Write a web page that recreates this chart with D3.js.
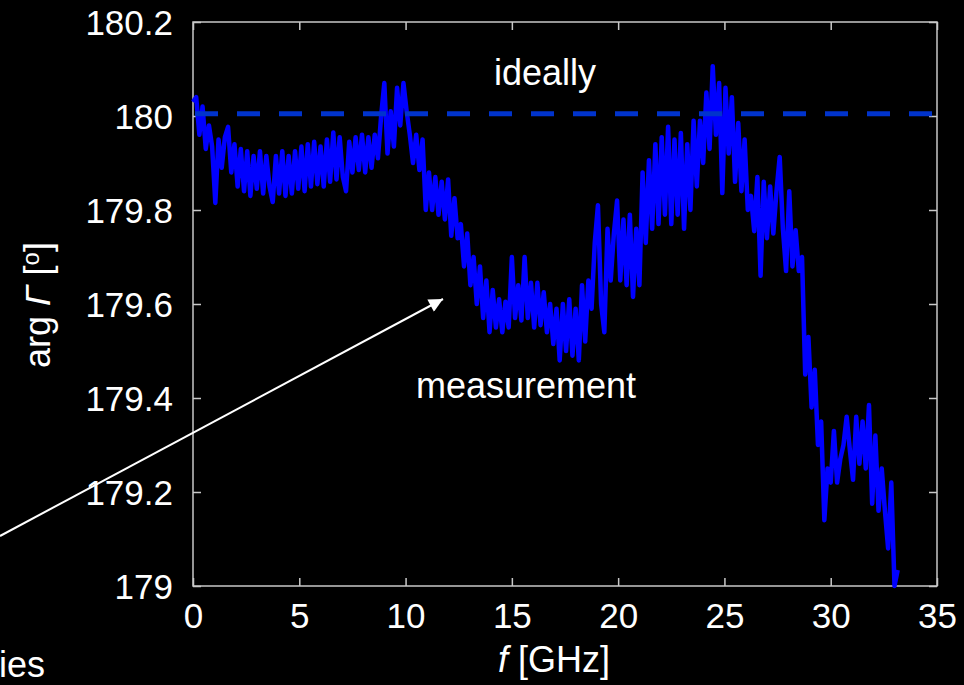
<!DOCTYPE html>
<html>
<head>
<meta charset="utf-8">
<script src="https://cdn.jsdelivr.net/npm/d3@7"></script>
<style>
  html, body { margin: 0; padding: 0; background: #000; }
  svg { display: block; }
  text { font-family: 'Liberation Sans', Arial, sans-serif; fill: #fff; }
</style>
</head>
<body>
<div id="chart"></div>
<script>
// Reflection phase chart

// Frequency sweep of the measurement (GHz)
const sweepStart = 0
const sweepStep = 0.15

// Measured phase values (degrees), one per sweep point
const phase = [
  180.030, 180.040, 179.960, 180.020, 179.930, 179.980, 179.935, 179.815, 179.950, 179.890,
  179.955, 179.977, 179.880, 179.940, 179.850, 179.930, 179.840, 179.925, 179.830, 179.915,
  179.845, 179.925, 179.835, 179.915, 179.850, 179.817, 179.915, 179.835, 179.925, 179.830,
  179.915, 179.835, 179.925, 179.845, 179.935, 179.840, 179.940, 179.850, 179.945, 179.855,
  179.935, 179.850, 179.950, 179.860, 179.965, 179.865, 179.955, 179.870, 179.840, 179.945,
  179.880, 179.955, 179.885, 179.960, 179.880, 179.955, 179.890, 179.960, 179.910, 180.000,
  180.070, 179.920, 180.010, 179.935, 180.060, 179.980, 180.070, 180.010, 179.960, 179.900,
  179.960, 179.885, 179.950, 179.800, 179.880, 179.800, 179.870, 179.790, 179.860, 179.780,
  179.865, 179.745, 179.825, 179.740, 179.770, 179.680, 179.750, 179.640, 179.700, 179.600,
  179.680, 179.570, 179.650, 179.540, 179.630, 179.550, 179.610, 179.540, 179.605, 179.550,
  179.700, 179.570, 179.640, 179.565, 179.700, 179.570, 179.645, 179.550, 179.645, 179.555,
  179.625, 179.540, 179.600, 179.515, 179.590, 179.480, 179.600, 179.500, 179.610, 179.490,
  179.590, 179.480, 179.640, 179.520, 179.650, 179.590, 179.730, 179.810, 179.600, 179.540,
  179.760, 179.650, 179.750, 179.820, 179.650, 179.780, 179.640, 179.790, 179.615, 179.760,
  179.640, 179.880, 179.730, 179.906, 179.760, 179.940, 179.770, 179.955, 179.790, 179.977,
  179.770, 179.950, 179.790, 179.964, 179.760, 179.940, 179.800, 179.990, 179.850, 179.990,
  179.900, 180.050, 179.930, 180.106, 179.960, 180.070, 179.836, 180.060, 179.920, 180.040,
  179.860, 179.985, 179.840, 179.950, 179.800, 179.830, 179.755, 179.870, 179.660, 179.860,
  179.740, 179.850, 179.750, 179.840, 179.913, 179.760, 179.670, 179.840, 179.680, 179.757,
  179.670, 179.700, 179.450, 179.530, 179.380, 179.460, 179.300, 179.350, 179.140, 179.250,
  179.220, 179.330, 179.220, 179.270, 179.300, 179.360, 179.290, 179.226, 179.360, 179.260,
  179.350, 179.250, 179.385, 179.175, 179.320, 179.160, 179.250, 179.160, 179.080, 179.220,
  179.000, 179.034
]

// Ideal reference line
const idealValue = 180.005
const idealRange = [0, 35]

// Tick labels
const xTicks = [0, 5, 10, 15, 20, 25, 30, 35]
const yTicks = [179, 179.2, 179.4, 179.6, 179.8, 180, 180.2]

// Size of the page and the plot box
var width = 964
var height = 685
var box = { left: 193, right: 937, top: 22, bottom: 586 }
var tickLen = 8
var frameColor = '#c8c8c8'

const xScale = d3.scaleLinear()
  .domain([0, 35])
  .range([box.left, box.right])

const yScale = d3.scaleLinear()
  .domain([179, 180.2])
  .range([box.bottom, box.top])

const svg = d3.select('#chart')
  .append('svg')
  .attr('width', width)
  .attr('height', height)

svg.append('rect')
  .attr('width', width)
  .attr('height', height)
  .attr('fill', '#000')

// axes, ticks pointing into the box
const bottomAxis = d3.axisBottom(xScale).tickValues(xTicks)
  .tickSizeInner(-tickLen).tickSizeOuter(0).tickFormat(d3.format('d'))
const topAxis = d3.axisTop(xScale).tickValues(xTicks)
  .tickSizeInner(-tickLen).tickSizeOuter(0).tickFormat('')
const leftAxis = d3.axisLeft(yScale).tickValues(yTicks)
  .tickSizeInner(-tickLen).tickSizeOuter(0).tickFormat(d => d3.format('~g')(d))
const rightAxis = d3.axisRight(yScale).tickValues(yTicks)
  .tickSizeInner(-tickLen).tickSizeOuter(0).tickFormat('')

const gx = svg.append('g')
  .attr('transform', `translate(0, ${box.bottom})`)
  .call(bottomAxis)
svg.append('g')
  .attr('transform', `translate(0, ${box.top})`)
  .call(topAxis)
const gy = svg.append('g')
  .attr('transform', `translate(${box.left}, 0)`)
  .call(leftAxis)
svg.append('g')
  .attr('transform', `translate(${box.right}, 0)`)
  .call(rightAxis)

svg.selectAll('.domain').remove()
svg.selectAll('.tick line')
  .attr('stroke', frameColor)
  .attr('stroke-width', 1.5)

gx.selectAll('.tick text')
  .attr('y', 42)
  .attr('dy', 0)
  .attr('font-size', 35)
  .attr('fill', '#fff')

gy.selectAll('.tick text')
  .attr('x', -20)
  .attr('dy', '0.36em')
  .attr('font-size', 35)
  .attr('fill', '#fff')

// frame
svg.append('rect')
  .attr('x', box.left)
  .attr('y', box.top)
  .attr('width', box.right - box.left)
  .attr('height', box.bottom - box.top)
  .attr('fill', 'none')
  .attr('stroke', frameColor)
  .attr('stroke-width', 1.5)

// measured curve
const line = d3.line()
  .x((d, i) => xScale(sweepStart + i * sweepStep))
  .y(d => yScale(d))

svg.append('path')
  .datum(phase)
  .attr('d', line)
  .attr('fill', 'none')
  .attr('stroke', '#0000ff')
  .attr('stroke-width', 4.5)
  .attr('stroke-linejoin', 'round')

// ideal dashed line
svg.append('line')
  .attr('x1', xScale(idealRange[0]) + 2)
  .attr('x2', xScale(idealRange[1]))
  .attr('y1', yScale(idealValue))
  .attr('y2', yScale(idealValue))
  .attr('stroke', '#0033cc')
  .attr('stroke-width', 5)
  .attr('stroke-dasharray', '23 19')

// annotations
svg.append('text')
  .attr('x', 545)
  .attr('y', 85)
  .attr('text-anchor', 'middle')
  .attr('font-size', 36)
  .text('ideally')

svg.append('text')
  .attr('x', 526)
  .attr('y', 398)
  .attr('text-anchor', 'middle')
  .attr('font-size', 36)
  .text('measurement')

svg.append('text')
  .attr('x', -1)
  .attr('y', 677)
  .attr('font-size', 36)
  .text('ies')

// arrow
svg.append('defs').append('marker')
  .attr('id', 'head')
  .attr('viewBox', '0 0 10 10')
  .attr('refX', 10)
  .attr('refY', 5)
  .attr('markerWidth', 8)
  .attr('markerHeight', 7)
  .attr('markerUnits', 'strokeWidth')
  .attr('orient', 'auto')
  .append('path')
  .attr('d', 'M0,0 L10,5 L0,10 Z')
  .attr('fill', '#fff')

svg.append('line')
  .attr('x1', 0)
  .attr('y1', 536)
  .attr('x2', 443)
  .attr('y2', 299)
  .attr('stroke', '#fff')
  .attr('stroke-width', 2)
  .attr('marker-end', 'url(#head)')

// axis labels
const xLabel = svg.append('text')
  .attr('x', 554)
  .attr('y', 672)
  .attr('text-anchor', 'middle')
  .attr('font-size', 36)
xLabel.append('tspan').attr('font-style', 'italic').text('f')
xLabel.append('tspan').text(' [GHz]')

const yLabel = svg.append('text')
  .attr('transform', 'translate(50, 305) rotate(-90)')
  .attr('text-anchor', 'middle')
  .attr('font-size', 36)
yLabel.append('tspan').text('arg ')
yLabel.append('tspan').attr('font-style', 'italic').text('Γ')
yLabel.append('tspan').text(' [')
yLabel.append('tspan').attr('font-size', 24).attr('dy', -11).text('o')
yLabel.append('tspan').attr('dy', 11).text(']')
</script>
</body>
</html>
